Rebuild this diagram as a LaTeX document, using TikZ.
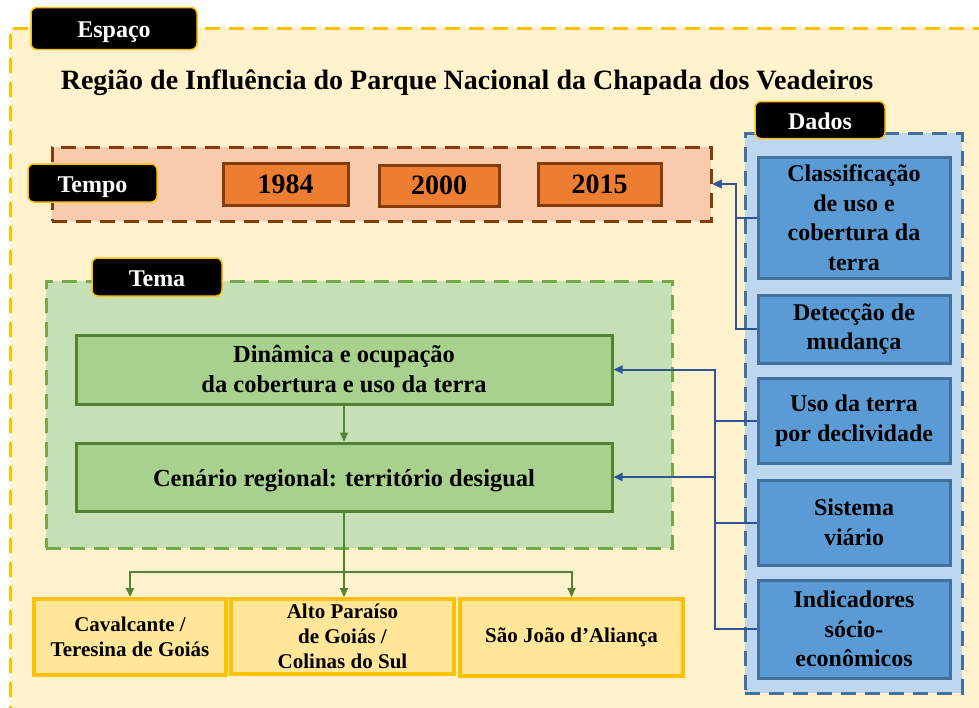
\documentclass[tikz,border=0pt]{standalone}
\usepackage{fontspec}
\setmainfont{Liberation Serif}
\usetikzlibrary{arrows.meta}
\definecolor{outerfill}{HTML}{FFF2CC}
\definecolor{gold}{HTML}{FFC000}
\definecolor{tempofill}{HTML}{F8CBAD}
\definecolor{brownline}{HTML}{843C0C}
\definecolor{yearfill}{HTML}{ED7D31}
\definecolor{temafill}{HTML}{C5E0B4}
\definecolor{temaline}{HTML}{70AD47}
\definecolor{greenfill}{HTML}{A9D18E}
\definecolor{greenline}{HTML}{548235}
\definecolor{dadosfill}{HTML}{BDD7EE}
\definecolor{blueline}{HTML}{41719C}
\definecolor{bluefill}{HTML}{5B9BD5}
\definecolor{yellowfill}{HTML}{FFE699}
\definecolor{connblue}{HTML}{2F5597}
\begin{document}
\begin{tikzpicture}[x=1pt,y=-1pt,
  >={Triangle[length=9pt,width=8pt]},
  container/.style={rectangle,inner sep=0pt,line width=3pt,dash pattern=on 15pt off 9pt},
  tag/.style={rectangle,rounded corners=6pt,fill=black,draw=gold,line width=1.5pt,inner sep=0pt,
    text height=18pt,text depth=0pt,
    text=white,font=\fontsize{24}{28}\selectfont\bfseries},
  yearbox/.style={rectangle,fill=yearfill,draw=brownline,line width=3pt,inner sep=0pt,
    font=\fontsize{28}{32}\selectfont\bfseries},
  databox/.style={rectangle,fill=bluefill,draw=blueline,line width=3pt,inner sep=0pt,
    minimum width=192pt,align=center,font=\fontsize{24}{29.5}\selectfont\bfseries},
  themebox/.style={rectangle,fill=greenfill,draw=greenline,line width=3pt,inner sep=0pt,
    minimum width=536pt,align=center,font=\fontsize{24.5}{30}\selectfont\bfseries},
  placebox/.style={rectangle,fill=yellowfill,draw=gold,line width=4pt,inner sep=0pt,
    align=center,font=\fontsize{21}{25}\selectfont\bfseries},
  bline/.style={draw=connblue,line width=2pt},
  gline/.style={draw=greenline,line width=2pt}]
\useasboundingbox (0,0) rectangle (979,707);
\clip (0,0) rectangle (979,707);
\fill[white] (0,0) rectangle (979,707);
% outer space container
\node[container,fill=outerfill,draw=gold,minimum width=990pt,minimum height=702pt] (espaco) at (505,379) {};
\node[tag,minimum width=166pt,minimum height=42pt] (espacotag) at (114,28.5) {Espaço};
\node[font=\fontsize{28}{32}\selectfont\bfseries] (title) at (467,83) {Região de Influência do Parque Nacional da Chapada dos Veadeiros};
% tempo
\node[container,fill=tempofill,draw=brownline,minimum width=659pt,minimum height=74pt] (tempo) at (381.5,184) {};
\node[tag,minimum width=129pt,minimum height=38pt] (tempotag) at (92.5,183) {Tempo};
\node[yearbox,minimum width=125pt,minimum height=42pt] (y1984) at (285.5,184) {1984};
\node[yearbox,minimum width=120pt,minimum height=41pt] (y2000) at (439,185.5) {2000};
\node[yearbox,minimum width=123pt,minimum height=42pt] (y2015) at (599.5,184) {2015};
% tema
\node[container,fill=temafill,draw=temaline,minimum width=626pt,minimum height=267pt] (tema) at (359,414.5) {};
\node[tag,minimum width=130pt,minimum height=38pt] (tematag) at (157,277) {Tema};
\node[themebox,minimum height=69pt] (din) at (344,369.5) {Dinâmica e ocupação\\da cobertura e uso da terra};
\node[themebox,minimum height=68pt,text height=18pt,text depth=0pt] (cen) at (344,477) {Cenário regional: território desigual};
% dados
\node[container,fill=dadosfill,draw=blueline,minimum width=217pt,minimum height=560pt] (dados) at (853.5,413) {};
\node[tag,minimum width=130pt,minimum height=37pt] (dadostag) at (820,120) {Dados};
\node[databox,minimum height=121pt] (class) at (854,217.5) {Classificação\\de uso e\\cobertura da\\terra};
\node[databox,minimum height=68pt] (detec) at (854,329) {Detecção de\\mudança};
\node[databox,minimum height=85pt] (uso) at (854,420.5) {Uso da terra\\por declividade};
\node[databox,minimum height=85pt] (sist) at (854,522.5) {Sistema\\viário};
\node[databox,minimum height=98pt] (indic) at (854,629) {Indicadores\\sócio-\\econômicos};
% places
\node[placebox,minimum width=192pt,minimum height=76pt] (cav) at (130,637) {Cavalcante /\\Teresina de Goiás};
\node[placebox,minimum width=223pt,minimum height=75pt] (alto) at (342.5,636.5) {Alto Paraíso\\de Goiás /\\Colinas do Sul};
\node[placebox,minimum width=223pt,minimum height=77pt] (sao) at (571.5,637.5) {São João d’Aliança};
% blue connectors
\coordinate (b1) at (736,0);
\coordinate (b2) at (715,0);
\draw[bline,->] (class.west) -- (class.west -| b1) |- (tempo.east);
\draw[bline,->] (detec.west) -- (detec.west -| b1) |- (tempo.east);
\draw[bline,->] (uso.west) -- (uso.west -| b2) |- (din.east);
\draw[bline,->] (sist.west) -- (sist.west -| b2) |- (cen.east);
\draw[bline] (indic.west) -- (indic.west -| b2) -- (uso.west -| b2);
% green connectors
\coordinate (g) at (344,572);
\draw[gline,->] (din.south) -- (cen.north);
\draw[gline,->] (cen.south) -- (cen.south |- alto.north);
\draw[gline,->] (g) -| (cav.north);
\draw[gline,->] (g) -| (sao.north);
\end{tikzpicture}
\end{document}
